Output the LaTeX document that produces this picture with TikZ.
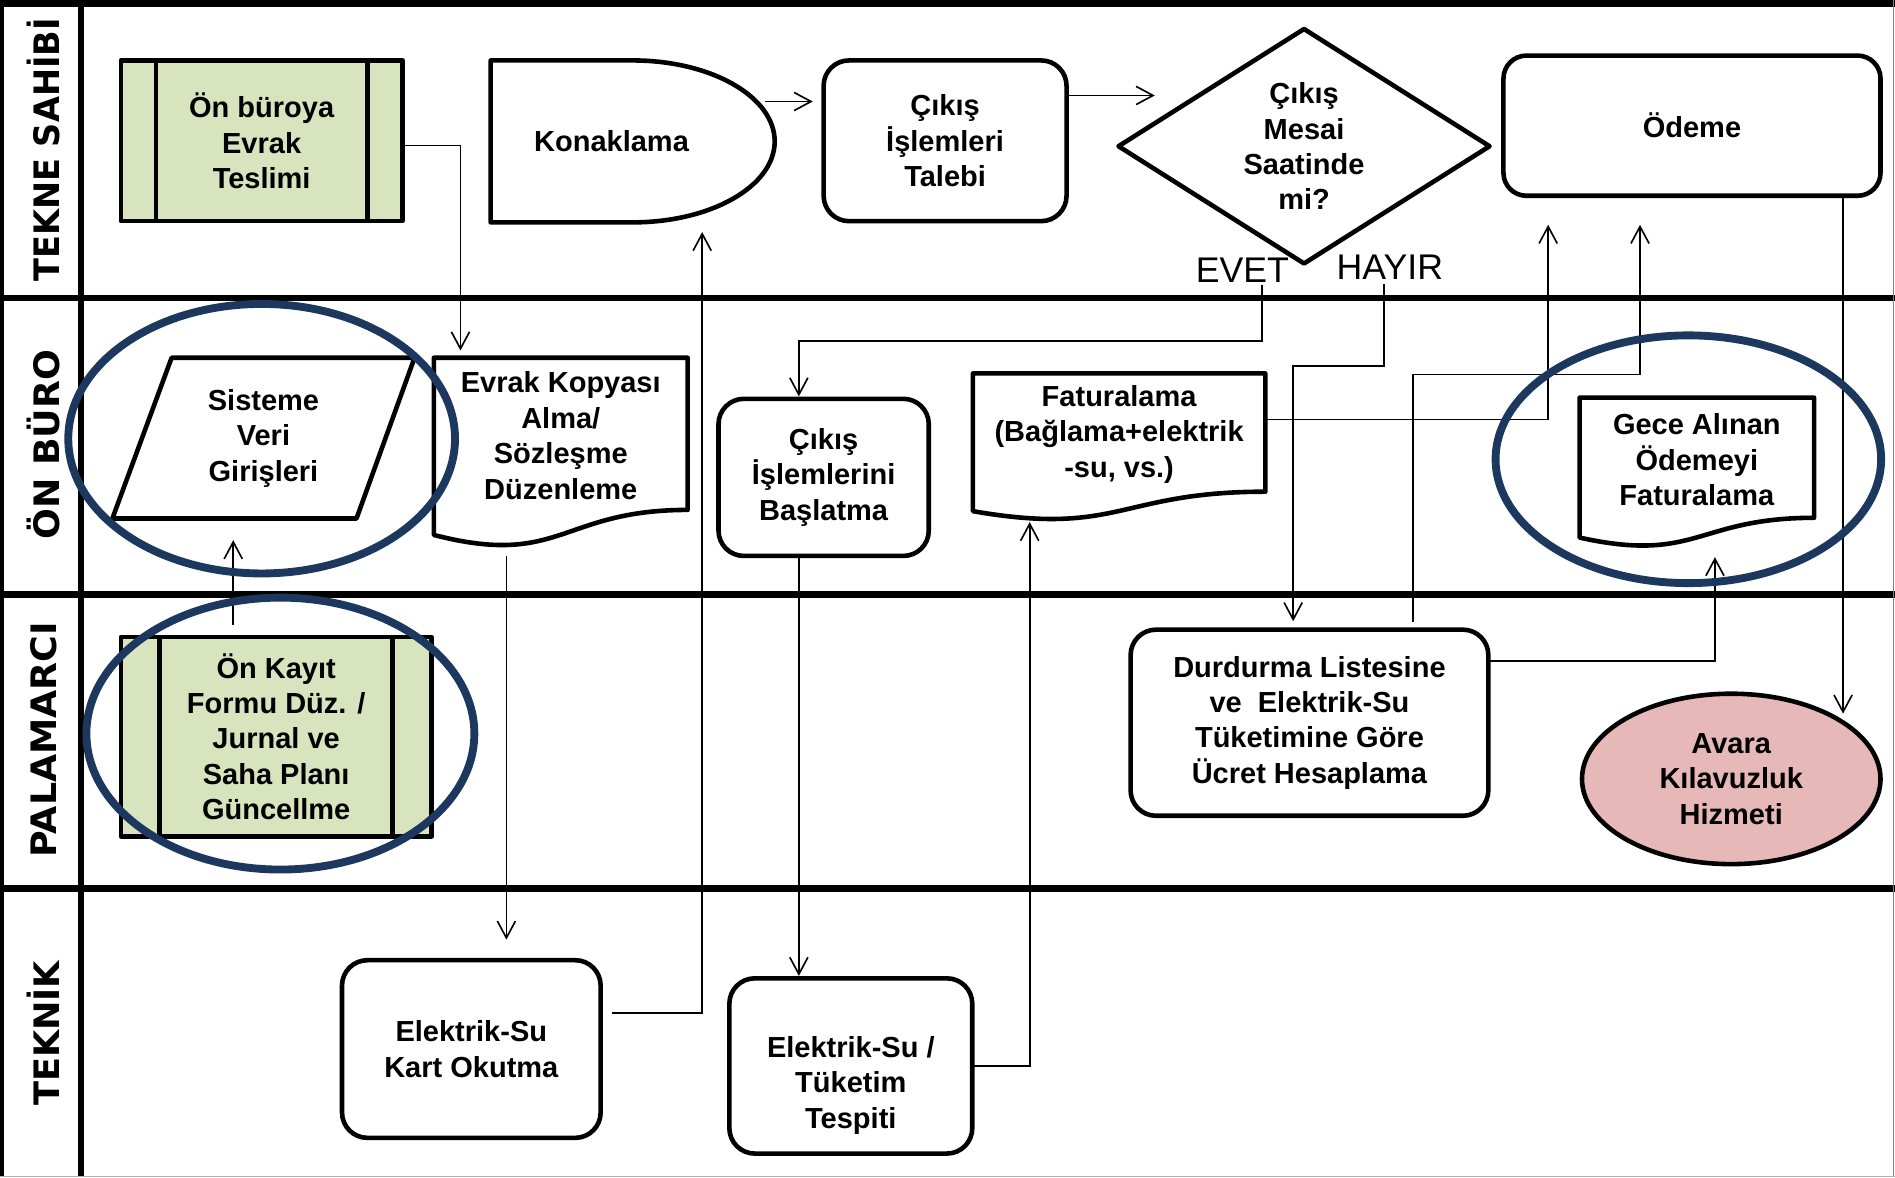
\documentclass[tikz,border=0pt]{standalone}
\usepackage{fontspec}
\usepackage{graphicx}
\setmainfont{Liberation Sans}
\newfontfamily\lanefont{DejaVu Sans Bold}
\usetikzlibrary{arrows.meta,backgrounds,calc,shapes.geometric}

\definecolor{procgreen}{RGB}{215,228,189}
\definecolor{termpink}{RGB}{230,185,184}
\definecolor{ringnavy}{RGB}{28,56,94}

\begin{document}
\begin{tikzpicture}[x=1pt,y=-1pt,
  lbl/.style={font=\fontsize{24}{29.3}\selectfont\bfseries, align=center, inner sep=0pt, outer sep=0pt},
  holder/.style={inner sep=0pt, outer sep=0pt, draw=none},
  outline/.style={line width=3.8pt, line join=round},
  rbox/.style={lbl, draw, outline, rounded corners=21pt},
  flow/.style={line width=1.35pt, -{Straight Barb[length=14pt,width=15pt]}},
  lane/.style={line width=5.5pt},
  ring/.style={draw=ringnavy, line width=6.5pt},
  lanelabel/.style={rotate=90, inner sep=0pt, font=\lanefont\fontsize{29}{29}\selectfont},
  yesno/.style={font=\fontsize{29.5}{30}\selectfont, inner sep=0pt, anchor=base},
  docshape/.style={insert path={(#1.north west) -- (#1.north east)
      -- ($(#1.north east)!0.802!(#1.south east)$)
      .. controls ($(#1.north)!0.802!(#1.south)$) and ($(#1.north)!1.107!(#1.south)$)
      .. ($(#1.north west)!0.934!(#1.south west)$) -- cycle}},
  procshape/.style={insert path={(#1.north west) rectangle (#1.south east)
      ($(#1.north west)!0.125!(#1.north east)$) -- ($(#1.south west)!0.125!(#1.south east)$)
      ($(#1.north west)!0.875!(#1.north east)$) -- ($(#1.south west)!0.875!(#1.south east)$)}},
]
\useasboundingbox (0,0) rectangle (1568,974);

% ---------- lane titles ----------
\node[lanelabel] (lane-owner)   at (36,124) {\resizebox{218pt}{\height}{TEKNE SAHİBİ}};
\node[lanelabel] (lane-front)   at (36,368) {\resizebox{157pt}{\height}{ÖN BÜRO}};
\node[lanelabel] (lane-mooring) at (36,612) {\resizebox{195pt}{\height}{PALAMARCI}};
\node[lanelabel] (lane-tech)    at (36,855) {\resizebox{120pt}{\height}{TEKNİK}};

% ---------- steps ----------
% TEKNE SAHIBI
\node[lbl, minimum width=233pt, minimum height=133pt] (teslim) at (216.5,116.5) {Ön büroya\\Evrak\\Teslimi};
\node[holder, minimum width=235pt, minimum height=134pt] (konak) at (523.5,117) {};
\node[lbl] (konak-t) at (506,117) {Konaklama};
\node[rbox, minimum width=201pt, minimum height=133pt] (talebi) at (782,116.5) {Çıkış\\İşlemleri\\Talebi};
\node[lbl, minimum width=307pt, minimum height=194pt] (karar) at (1079,121) {Çıkış\\Mesai\\Saatinde\\mi?};
\node[rbox, rounded corners=19pt, minimum width=312pt, minimum height=116pt] (odeme) at (1400,104) {Ödeme};
\node[yesno] (evet) at (1028,234) {EVET};
\node[yesno] (hayir) at (1150,231) {HAYIR};

% ON BURO
\node[lbl, minimum width=250pt, minimum height=133pt] (sisteme) at (218,362.5) {Sisteme\\Veri\\Girişleri};
\node[holder, minimum width=210pt, minimum height=157pt] (kopya) at (464,374.5) {};
\node[lbl] (kopya-t) at (464,360.5) {Evrak Kopyası\\Alma/\\Sözleşme\\Düzenleme};
\node[rbox, minimum width=174pt, minimum height=130pt] (baslat) at (681.5,395) {Çıkış\\İşlemlerini\\Başlatma};
\node[holder, minimum width=242pt, minimum height=122pt] (fatura) at (926,370) {};
\node[lbl] (fatura-t) at (926,359.5) {Faturalama\\(Bağlama+elektrik\\-su, vs.)};
\node[holder, minimum width=194pt, minimum height=124pt] (gece) at (1404,391) {};
\node[lbl] (gece-t) at (1404,380.5) {Gece Alınan\\Ödemeyi\\Faturalama};

% PALAMARCI
\node[lbl, minimum width=257pt, minimum height=165pt] (onkayit) at (228.5,609.5) {Ön Kayıt\\Formu Düz. /\\Jurnal ve\\Saha Planı\\Güncellme};
\node[rbox, minimum width=296pt, minimum height=154pt] (durdur) at (1083.5,598) {Durdurma Listesine\\ve~~Elektrik-Su\\Tüketimine Göre\\Ücret Hesaplama};
\node[lbl, draw, outline, ellipse, fill=termpink, minimum width=247pt, minimum height=141pt] (avara) at (1432.5,644.5) {Avara\\Kılavuzluk\\Hizmeti};

% TEKNIK
\node[rbox, minimum width=214pt, minimum height=147pt] (kart) at (390,868) {Elektrik-Su\\Kart Okutma};
\node[rbox, minimum width=201pt, minimum height=145pt] (tespit) at (704,882) {};
\node[lbl] (tespit-t) at (704,898) {Elektrik-Su /\\Tüketim\\Tespiti};

% ---------- lanes and symbol outlines ----------
\begin{scope}[on background layer]
  \draw[lane] (0,3) -- (1568,3);
  \draw[lane] (0,246.5) -- (1568,246.5);
  \draw[lane] (0,492) -- (1568,492);
  \draw[lane] (0,735) -- (1568,735);
  \draw[line width=3.5pt] (1.7,0) -- (1.7,974);
  \draw[lane] (67,0) -- (67,974);
  \draw[line width=1pt, gray] (1567,0) -- (1567,974);
  \draw[line width=1pt, gray!60] (0,973.5) -- (1568,973.5);

  % predefined processes
  \filldraw[outline, fill=procgreen, procshape=teslim];
  \filldraw[outline, fill=procgreen, procshape=onkayit];
  % delay
  \filldraw[outline, fill=white] (konak.north west) -- (konak.north)
     arc[start angle=90, end angle=-90, x radius=117.5pt, y radius=67pt]
     -- (konak.south west) -- cycle;
  % decision
  \filldraw[outline, fill=white] (karar.west) -- (karar.north) -- (karar.east) -- (karar.south) -- cycle;
  % data input
  \filldraw[outline, fill=white] ([xshift=49pt]sisteme.north west) -- (sisteme.north east)
     -- ([xshift=-48pt]sisteme.south east) -- (sisteme.south west) -- cycle;
  % documents
  \filldraw[outline, fill=white, docshape=kopya];
  \filldraw[outline, fill=white, docshape=fatura];
  \filldraw[outline, fill=white, docshape=gece];
\end{scope}

% ---------- connectors ----------
\draw[flow] ([yshift=-4pt]teslim.east) -| ([xshift=-83pt,yshift=6pt]kopya.north);
\draw[flow] ([xshift=-8pt,yshift=33pt]konak.east) -- ([xshift=-9pt,yshift=32.5pt]talebi.west);
\draw[flow] ([yshift=37.5pt]talebi.east) -- ([xshift=30pt,yshift=42pt]karar.west);
\draw[flow] ([xshift=9pt,yshift=30pt]kart.east) -| ([xshift=57.5pt,yshift=-8pt]konak.south);
\draw[flow] ([xshift=-45pt,yshift=-7pt]kopya.south) -- ([xshift=29pt,yshift=17pt]kart.north);
\draw[flow] ([xshift=16pt,yshift=-2pt]evet.base) |- (661,282) -- ([xshift=-20.5pt,yshift=2pt]baslat.north);
\draw[flow] ([xshift=-5pt,yshift=-4pt]hayir.base) |- (1070,303) -- ([xshift=-13.5pt,yshift=7pt]durdur.north);
\draw[flow] ([xshift=-20.5pt]baslat.south) -- ([xshift=-43pt,yshift=2pt]tespit.north);
\draw[flow] (tespit.east) -| ([xshift=-74pt,yshift=-1pt]fatura.south);
\draw[flow] ([yshift=23pt]fatura.east) -| ([xshift=-119pt,yshift=-24pt]odeme.south);
\draw[flow] ([xshift=85.5pt,yshift=6pt]durdur.north) |- (1357,310) -- ([xshift=-43pt,yshift=-24pt]odeme.south);
\draw[flow] ([yshift=51pt]durdur.east) -| ([xshift=15pt,yshift=-8pt]gece.south);
\draw[flow] ([xshift=125pt]odeme.south) -- ([xshift=92.5pt,yshift=54pt]avara.center);
\draw[flow] ([xshift=-35.5pt,yshift=10pt]onkayit.north) -- ([xshift=-25pt,yshift=-18pt]sisteme.south);

% ---------- highlight rings ----------
\draw[ring] (216.5,363) ellipse [x radius=160pt, y radius=111.5pt];
\draw[ring] (232,607) ellipse [x radius=160.5pt, y radius=112.5pt];
\draw[ring] (1397,380) ellipse [x radius=159.5pt, y radius=102.5pt];
\end{tikzpicture}
\end{document}
